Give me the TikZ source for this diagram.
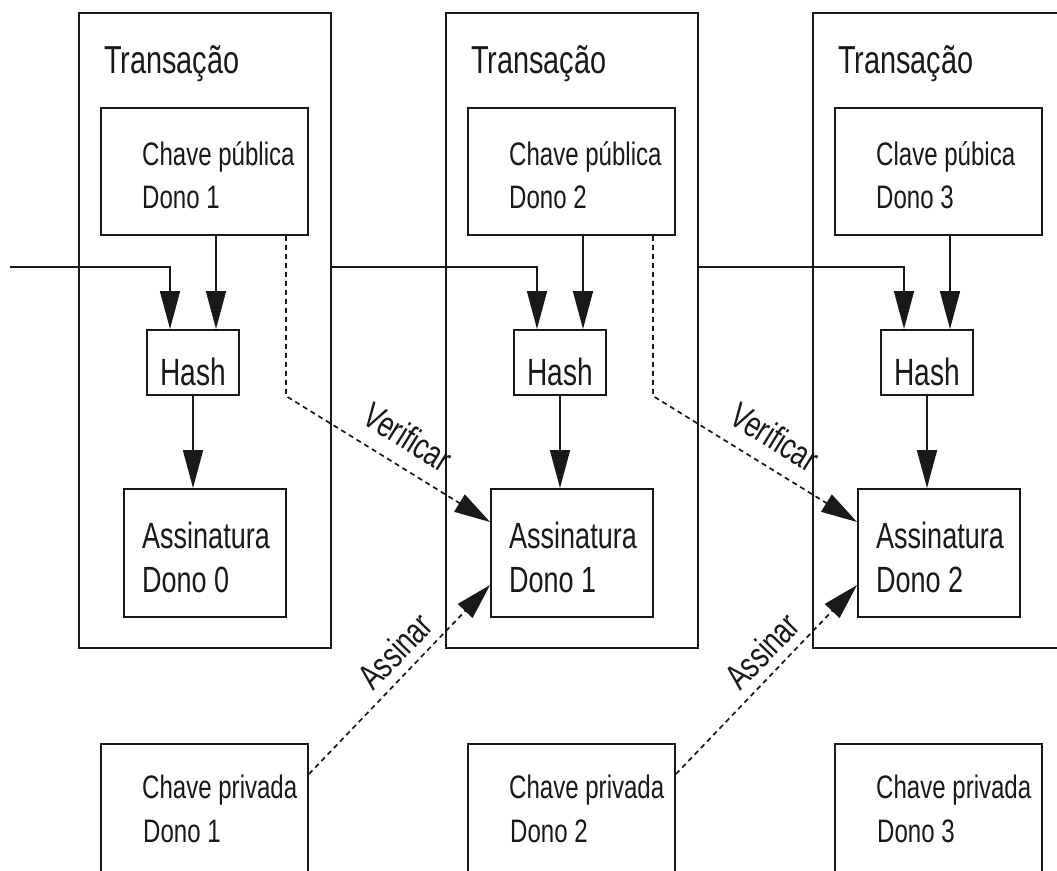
\documentclass[tikz,border=0pt]{standalone}
\usepackage{fontspec}
\setmainfont{Liberation Sans}[FakeStretch=0.74]
\usetikzlibrary{arrows.meta}
\begin{document}
\begin{tikzpicture}[x=1pt,y=-1pt,
  box/.style={draw=black!90, line width=1.9pt, inner sep=0pt},
  txt/.style={inner sep=0pt, anchor=base west, text=black!90},
  ttl/.style={txt, font=\fontsize{39}{40}\selectfont},
  keytxt/.style={txt, font=\fontsize{32.5}{36}\selectfont},
  sigtxt/.style={txt, font=\fontsize{36.5}{40}\selectfont},
  hashtxt/.style={inner sep=0pt, anchor=base, text=black!90, font=\fontsize{38}{40}\selectfont},
  edgelbl/.style={inner sep=0pt, text=black!90, font=\fontsize{36}{40}\selectfont},
  arr/.style={line width=1.6pt, draw=black!90, -{Triangle[length=38pt,width=20pt]}},
  dasharr/.style={line width=1.7pt, draw=black!90, dash pattern=on 5pt off 4pt, -{Triangle[length=36pt,width=20pt]}}]
\useasboundingbox (0,0) rectangle (1057,870);
\clip (0,0) rectangle (1057,870);
\fill[white] (0,0) rectangle (1057,870);

\foreach \i/\dx/\pk/\sg in {1/0/Chave pública/0, 2/367/Chave pública/1, 3/734/Clave púbica/2} {
  % transaction box
  \node[box, minimum width=252pt, minimum height=635pt] (tx\i) at (205+\dx, 330.5) {};
  \node[ttl] (title\i) at (104+\dx, 73) {Transação};
  % public key
  \node[box, minimum width=207pt, minimum height=127pt] (pub\i) at (204.5+\dx, 171.5) {};
  \node[keytxt] (pubA\i) at (142+\dx, 165) {\pk};
  \node[keytxt] (pubB\i) at (142+\dx, 208) {Dono \i};
  % hash
  \node[box, minimum width=92pt, minimum height=65pt] (hash\i) at (193+\dx, 362.5) {};
  \node[hashtxt] (hashT\i) at (193+\dx, 385) {Hash};
  % signature
  \node[box, minimum width=162pt, minimum height=128pt] (sig\i) at (205+\dx, 553) {};
  \node[sigtxt] (sigA\i) at (142+\dx, 548) {Assinatura};
  \node[sigtxt] (sigB\i) at (142+\dx, 592) {Dono \sg};
  % private key
  \node[box, minimum width=207pt, minimum height=156pt] (priv\i) at (204.5+\dx, 822) {};
  \node[keytxt] (privA\i) at (142+\dx, 798) {Chave privada};
  \node[keytxt] (privB\i) at (143+\dx, 842) {Dono \i};
  % helper coordinates
  \coordinate (hinL\i) at ([xshift=-23pt]hash\i.north);
  \coordinate (hinR\i) at ([xshift=23pt]hash\i.north);
}

\coordinate (src1) at (10,267);
\coordinate (src2) at (tx1.east |- src1);
\coordinate (src3) at (tx2.east |- src1);

\foreach \i in {1,2,3} {
  \draw[arr] (src\i) -| (hinL\i);
  \draw[arr] (pub\i.south -| hinR\i) -- (hinR\i);
  \draw[arr] (hash\i.south) -- (hash\i.south |- sig\i.north);
}

\foreach \i/\j/\dx in {1/2/0, 2/3/367} {
  \coordinate (vs\i) at ([xshift=-23pt]pub\i.south east);
  \coordinate (vc\i) at (vs\i |- hash\i.south);
  \draw[dasharr] (vs\i) -- (vc\i) -- ([yshift=31pt]sig\j.west);
  \coordinate (as\i) at ([yshift=-31pt]priv\i.north east);
  \draw[dasharr] (as\i) -- ([yshift=-32pt]sig\j.west);
  \node[edgelbl, rotate=-32] (ver\i) at (408+\dx, 437) {Verificar};
  \node[edgelbl, rotate=46] (ass\i) at (395+\dx, 651) {Assinar};
}
\end{tikzpicture}
\end{document}
